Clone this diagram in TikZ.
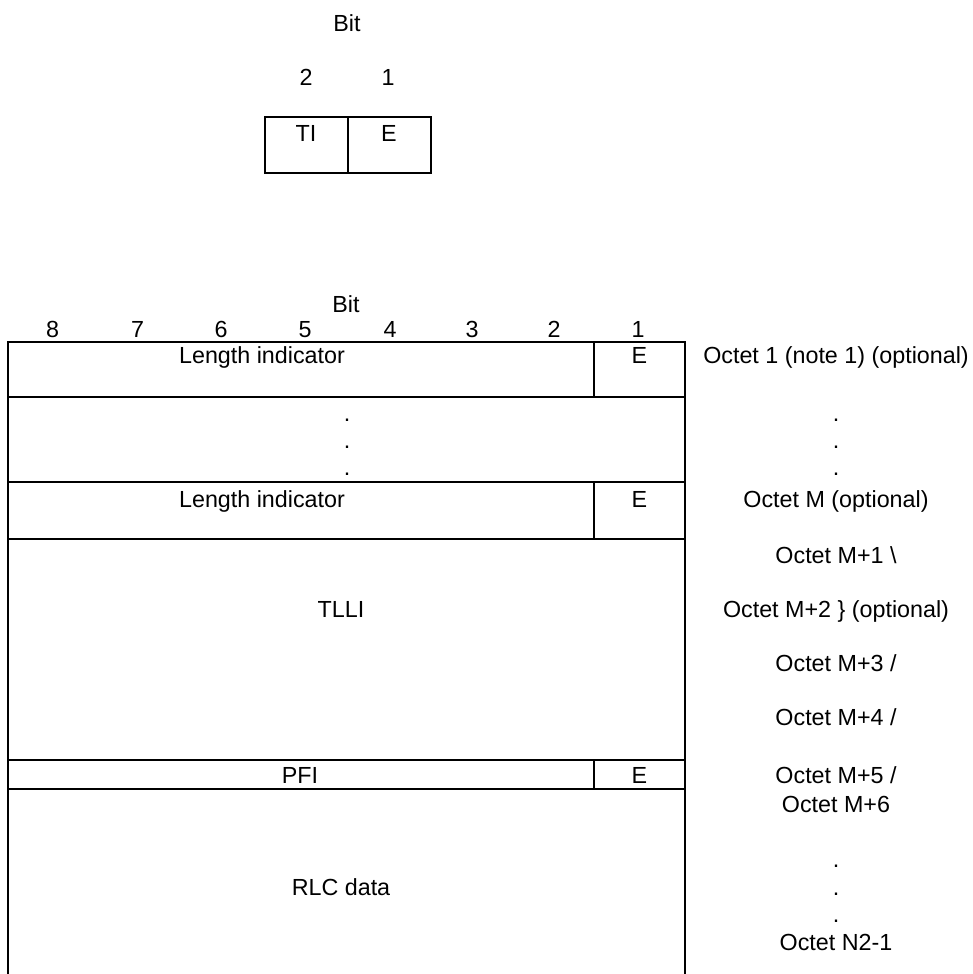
\documentclass[tikz,border=0pt]{standalone}
\usepackage{fontspec}
\setmainfont{Liberation Sans}
\begin{document}
\begin{tikzpicture}[x=1pt,y=-1pt, line width=1.8pt,
  lbl/.style={inner sep=0pt, anchor=base, font=\fontsize{23.3}{28}\selectfont}]
\useasboundingbox (0,0) rectangle (973,974);
% ---- small two-bit field ----
\node[lbl] (bitA) at (347,32) {Bit};
\node[lbl] (ba2) at (306,85) {2};
\node[lbl] (ba1) at (388,85) {1};
\draw (265,117) rectangle (431,173);
\draw (348,117) -- (348,173);
\node[lbl] (ti) at (306,141) {TI};
\node[lbl] (ea) at (389,141) {E};
% ---- main table ----
\node[lbl] (bitB) at (346,312) {Bit};
\foreach \n/\x in {8/52.7,7/137.5,6/221,5/305,4/390,3/472,2/554,1/638}
  \node[lbl] (n\n) at (\x,337) {\n};
\draw (8,974) -- (8,342) -- (685,342) -- (685,974);
\foreach \y in {397,482,539,760,789} \draw (8,\y) -- (685,\y);
\draw (594,342) -- (594,397) (594,482) -- (594,539) (594,760) -- (594,789);
\node[lbl] (li1) at (262,363) {Length indicator};
\node[lbl] (e1) at (639.5,363) {E};
\foreach \y [count=\i] in {421,448,475} \node[lbl] (dc\i) at (347,\y) {.};
\node[lbl] (li2) at (262,507) {Length indicator};
\node[lbl] (e2) at (639.5,507) {E};
\node[lbl] (tlli) at (341,617) {TLLI};
\node[lbl] (pfi) at (300,783) {PFI};
\node[lbl] (e3) at (639.5,783) {E};
\node[lbl] (rlc) at (341,895) {RLC data};
% ---- right labels ----
\node[lbl] (o1) at (836,363) {Octet 1 (note 1) (optional)};
\foreach \y [count=\i] in {421,448,475} \node[lbl] (dr\i) at (836,\y) {.};
\node[lbl] (om) at (836,507) {Octet M (optional)};
\node[lbl] (om1) at (836,563) {Octet M+1 \textbackslash};
\node[lbl] (om2) at (836,617) {Octet M+2 \} (optional)};
\node[lbl] (om3) at (836,671) {Octet M+3 /};
\node[lbl] (om4) at (836,725) {Octet M+4 /};
\node[lbl] (om5) at (836,783) {Octet M+5 /};
\node[lbl] (om6) at (836,812) {Octet M+6};
\foreach \y [count=\i] in {867,895,922} \node[lbl] (ds\i) at (836,\y) {.};
\node[lbl] (on) at (836,950) {Octet N2-1};
\end{tikzpicture}
\end{document}
